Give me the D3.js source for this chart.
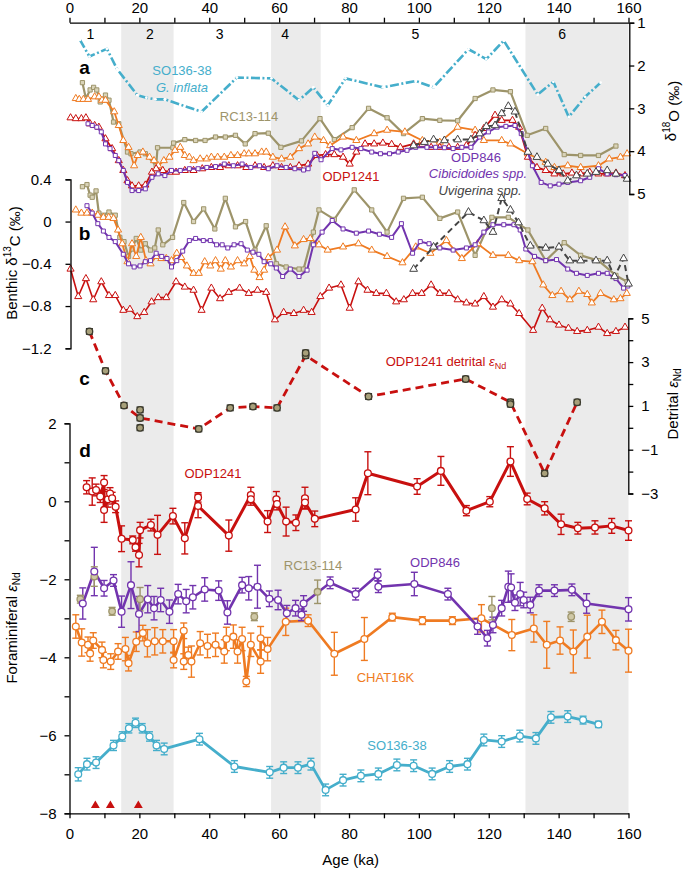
<!DOCTYPE html>
<html><head><meta charset="utf-8">
<script src="https://cdn.jsdelivr.net/npm/d3@7"></script>
<style>
body{margin:0;background:#fff;}
svg text{font-family:"Liberation Sans",Arial,sans-serif;}
</style></head>
<body><svg id="c" width="685" height="869"></svg>
<script>
// ---------------- DATA ----------------
const ageTicks = d3.range(0,161,10);
const misBands = [[14.8,29.8],[57.7,71.9],[130.5,160]];
const misLabels = ["1","2","3","4","5","6"];
const misPos = [6,23,43,61.7,99,141];

// panel a: d18O (per mil)
const so136_d18O = [[3.0,1.40],[5.7,1.79],[10.7,1.61],[13.6,2.08],[19.4,2.69],[22.0,2.75],[24.6,2.79],[27.3,2.79],[37.8,3.08],[47.9,2.28],[57.8,2.30],[65.7,2.81],[69.8,2.51],[73.9,2.93],[79.0,2.30],[89.7,2.51],[99.1,2.36],[104.2,2.51],[114.2,1.62],[119.3,1.85],[124.3,1.42],[134.0,2.68],[138.5,2.38],[142.9,3.20],[147.6,2.73],[152.0,2.40]];
const rc13_d18O = [[3.7,2.40],[4.7,2.77],[5.9,2.57],[6.9,2.51],[7.8,2.57],[8.8,2.85],[10.3,2.69],[11.3,2.81],[12.6,3.32],[14.1,3.36],[16.6,4.02],[17.6,4.06],[20.2,4.02],[21.7,4.06],[24.8,4.34],[25.2,3.92],[29.6,3.92],[29.8,3.81],[33.0,3.73],[36.1,3.75],[38.8,3.75],[41.8,3.67],[44.6,3.67],[47.5,3.63],[50.3,3.83],[53.1,3.59],[56.9,3.58],[60.5,3.91],[66.4,3.76],[71.7,3.24],[75.8,3.73],[80.9,3.45],[85.6,3.00],[90.9,3.22],[95.6,3.59],[101.0,3.24],[106.0,3.28],[111.1,3.29],[116.1,2.77],[121.2,2.57],[126.2,2.61],[131.0,3.63],[136.3,3.47],[141.6,4.08],[146.3,4.10],[151.4,4.10],[156.4,3.88]];
const chat_d18O = [[1.8,2.77],[2.8,2.79],[4.0,2.79],[5.3,2.79],[7.2,2.73],[8.4,2.73],[9.3,2.81],[10.3,2.81],[12.8,3.08],[14.1,3.40],[15.4,3.75],[16.9,3.91],[18.5,4.34],[19.5,4.10],[21.0,4.02],[22.9,4.14],[24.2,4.22],[25.4,4.34],[27.0,4.22],[28.6,4.14],[30.2,3.98],[31.7,3.91],[33.0,4.10],[34.3,4.14],[35.5,4.22],[37.4,4.18],[39.3,4.18],[40.6,4.14],[42.4,4.14],[44.3,4.14],[46.2,4.10],[48.1,4.10],[50.0,4.06],[51.3,4.06],[53.1,4.06],[55.0,4.02],[56.3,4.02],[58.2,4.14],[60.7,4.18],[63.2,4.14],[65.7,3.94],[68.3,3.83],[70.2,3.67],[72.7,3.75],[74.6,3.87],[78.3,3.67],[82.1,3.75],[87.2,3.59],[90.9,3.51],[96.0,3.55],[101.0,3.75],[106.0,3.79],[111.1,3.44],[116.1,3.51],[118.6,3.75],[123.7,3.75],[126.2,3.83],[131.2,4.06],[136.3,4.26],[138.8,4.38],[142.6,4.34],[146.3,4.38],[151.4,4.34],[154.5,4.18],[157.7,4.14],[159.6,4.06]];
const odp1241_d18O = [[0.3,3.22],[1.8,3.24],[3.4,3.24],[4.7,3.22],[5.9,3.36],[7.2,3.40],[8.4,3.44],[10.3,3.71],[12.2,3.94],[14.1,4.22],[15.4,4.45],[16.6,4.69],[17.9,4.81],[19.8,4.81],[21.7,4.79],[23.6,4.49],[24.8,4.41],[26.7,4.45],[28.6,4.49],[30.5,4.49],[33.0,4.45],[35.5,4.45],[38.0,4.41],[40.6,4.38],[43.1,4.38],[45.6,4.34],[48.1,4.34],[50.6,4.38],[53.1,4.34],[55.7,4.38],[58.2,4.34],[60.7,4.38],[63.2,4.38],[65.7,4.34],[68.3,4.30],[70.8,4.10],[73.3,4.08],[75.8,4.08],[78.3,4.14],[80.2,4.30],[82.1,4.02],[84.6,3.83],[87.2,3.83],[89.7,3.81],[92.2,3.84],[94.7,3.91],[98.5,3.83],[101.0,3.84],[103.5,3.91],[106.0,3.91],[108.6,3.91],[111.1,3.91],[113.6,3.87],[116.1,3.63],[118.6,3.47],[121.8,3.16],[123.7,3.28],[126.8,3.28],[128.7,3.44],[131.2,4.14],[133.8,4.38],[136.3,4.45],[138.8,4.53],[141.3,4.53],[143.8,4.51],[146.3,4.53],[148.9,4.49],[151.4,4.53],[153.9,4.53],[156.4,4.51],[159.0,4.57]];
const odp846_d18O = [[5.3,3.36],[6.5,3.40],[7.8,3.44],[9.1,3.55],[10.3,3.83],[11.6,3.94],[13.1,4.10],[14.1,4.22],[15.4,4.45],[16.6,4.73],[17.9,4.92],[19.8,4.92],[21.7,4.88],[23.6,4.61],[25.4,4.53],[27.3,4.57],[29.2,4.45],[31.7,4.45],[34.3,4.41],[36.8,4.41],[39.3,4.38],[41.8,4.36],[44.3,4.30],[46.9,4.34],[49.4,4.30],[51.9,4.38],[54.4,4.34],[56.9,4.41],[59.4,4.34],[62.0,4.38],[64.5,4.41],[67.0,4.44],[68.3,4.41],[70.2,4.05],[72.0,4.20],[75.2,3.94],[77.7,3.97],[80.9,3.91],[83.4,3.94],[86.5,4.02],[89.0,4.06],[91.6,4.06],[94.1,4.02],[96.6,3.98],[99.1,3.91],[102.3,3.91],[104.8,3.91],[107.3,3.92],[109.8,3.94],[112.3,3.91],[114.9,3.91],[117.4,3.67],[119.9,3.55],[122.4,3.44],[124.9,3.42],[127.5,3.40],[129.3,3.59],[132.5,4.34],[135.0,4.73],[137.6,4.81],[140.1,4.77],[142.6,4.73],[146.3,4.69],[148.9,4.61],[151.4,4.41],[153.9,4.53],[156.4,4.55],[159.0,4.57]];
const uvi_d18O = [[98.5,3.87],[101.6,3.79],[104.2,3.73],[107.3,3.75],[111.1,3.73],[114.9,3.73],[117.4,3.59],[119.3,3.42],[121.8,3.40],[123.7,3.12],[125.6,2.95],[127.5,3.08],[131.2,4.02],[133.8,4.14],[136.9,4.30],[140.1,4.45],[142.6,4.69],[145.1,4.57],[148.2,4.53],[150.7,4.49],[153.9,4.45],[156.4,4.53],[159.6,4.65]];

// panel b: benthic d13C (per mil)
const rc13_d13C = [[3.7,0.33],[5.0,0.35],[5.9,0.25],[6.5,0.23],[7.6,0.29],[8.4,0.08],[9.7,0.06],[11.3,0.09],[13.1,0.06],[14.4,-0.15],[15.6,-0.19],[16.9,-0.33],[17.9,-0.26],[19.1,-0.16],[20.4,-0.27],[21.7,-0.21],[23.2,-0.27],[24.4,-0.25],[25.4,-0.08],[26.7,-0.22],[29.5,-0.15],[32.7,0.18],[35.5,0.00],[38.4,0.12],[41.6,-0.07],[44.6,0.22],[47.5,-0.05],[50.4,0.00],[53.1,-0.27],[56.3,-0.04],[59.2,-0.40],[62.0,-0.43],[65.7,-0.45],[67.0,-0.45],[69.8,-0.10],[71.4,0.11],[75.8,0.02],[81.5,0.30],[86.5,0.11],[90.9,-0.10],[95.6,0.22],[101.0,0.23],[106.0,0.03],[111.1,0.09],[116.1,-0.32],[120.9,0.04],[125.6,0.04],[131.2,-0.08],[136.3,-0.37],[141.6,-0.20],[146.3,-0.32],[151.4,-0.37],[156.4,-0.51],[159.6,-0.57]];
const chat_d13C = [[1.8,0.11],[3.4,0.08],[5.0,0.08],[6.5,0.08],[8.1,0.06],[9.7,0.04],[11.2,0.04],[12.6,0.03],[13.9,-0.08],[15.1,-0.21],[16.6,-0.38],[17.9,-0.21],[19.1,-0.33],[20.4,-0.15],[21.9,-0.37],[23.2,-0.40],[24.8,-0.33],[26.3,-0.35],[27.7,-0.35],[29.2,-0.37],[30.7,-0.30],[32.0,-0.34],[33.6,-0.42],[35.5,-0.49],[37.0,-0.49],[38.7,-0.38],[40.3,-0.42],[41.8,-0.37],[43.3,-0.45],[44.6,-0.37],[46.2,-0.43],[48.1,-0.37],[50.0,-0.40],[51.6,-0.33],[52.9,-0.46],[54.4,-0.53],[55.7,-0.46],[56.9,-0.34],[59.4,-0.27],[61.7,-0.05],[64.5,-0.23],[67.0,-0.17],[68.9,-0.16],[71.4,-0.22],[73.9,-0.27],[78.3,-0.24],[82.7,-0.21],[86.5,-0.27],[90.9,-0.33],[95.3,-0.39],[99.1,-0.24],[103.3,-0.30],[107.9,-0.18],[112.3,-0.35],[116.8,-0.21],[121.2,-0.32],[125.6,-0.32],[128.7,-0.37],[132.5,-0.38],[135.6,-0.60],[138.2,-0.70],[140.7,-0.66],[143.2,-0.74],[145.8,-0.66],[148.2,-0.69],[149.5,-0.77],[152.0,-0.68],[155.8,-0.74],[157.7,-0.73],[159.5,-0.68]];
const odp846_d13C = [[5.0,0.15],[6.5,0.08],[8.1,-0.02],[9.7,-0.09],[11.3,-0.15],[13.1,-0.19],[15.4,-0.31],[16.9,-0.40],[18.5,-0.43],[20.2,-0.42],[21.7,-0.38],[23.2,-0.37],[24.8,-0.30],[26.4,-0.33],[27.9,-0.35],[29.2,-0.43],[30.7,-0.37],[32.4,-0.28],[34.3,-0.18],[36.1,-0.16],[38.3,-0.18],[40.3,-0.18],[42.1,-0.22],[43.7,-0.22],[45.3,-0.25],[47.1,-0.22],[49.1,-0.21],[50.9,-0.27],[52.5,-0.29],[54.2,-0.31],[55.7,-0.38],[57.6,-0.40],[59.2,-0.44],[61.0,-0.52],[63.2,-0.45],[65.7,-0.52],[68.0,-0.46],[69.8,-0.22],[72.3,-0.10],[75.2,0.01],[78.3,-0.07],[82.1,-0.11],[85.6,-0.09],[88.7,-0.12],[92.2,-0.15],[95.0,-0.02],[98.2,-0.30],[100.4,-0.19],[102.9,-0.21],[106.0,-0.25],[109.8,-0.27],[113.6,-0.25],[116.1,-0.22],[118.6,-0.10],[121.2,-0.03],[124.3,-0.03],[127.2,-0.03],[129.0,-0.08],[130.6,-0.26],[133.1,-0.33],[136.3,-0.37],[139.4,-0.36],[142.6,-0.45],[145.1,-0.49],[148.2,-0.51],[151.4,-0.49],[153.9,-0.49],[156.4,-0.54],[158.6,-0.63],[159.8,-0.61]];
const uvi_d13C = [[98.5,-0.45],[104.2,-0.24],[114.2,0.09],[118.6,0.01],[121.2,-0.10],[123.7,0.22],[126.2,0.11],[128.5,-0.01],[131.9,-0.23],[136.3,-0.25],[140.1,-0.24],[143.2,-0.37],[146.3,-0.37],[150.7,-0.37],[153.9,-0.37],[156.0,-0.52],[158.6,-0.35],[160.0,-0.59]];
const odp1241_d13C = [[0.3,-0.45],[2.5,-0.71],[4.7,-0.54],[6.8,-0.74],[9.1,-0.57],[11.3,-0.70],[13.1,-0.70],[15.4,-0.84],[17.3,-0.83],[19.4,-0.90],[21.4,-0.86],[23.5,-0.76],[25.4,-0.72],[27.7,-0.72],[30.5,-0.57],[33.0,-0.62],[35.5,-0.65],[37.8,-0.84],[40.6,-0.63],[43.1,-0.73],[45.6,-0.67],[48.7,-0.63],[51.3,-0.68],[53.8,-0.65],[56.3,-0.67],[58.8,-0.93],[61.3,-0.86],[64.2,-0.87],[67.0,-0.84],[69.3,-0.86],[71.8,-0.71],[74.3,-0.63],[77.7,-0.60],[80.2,-0.82],[82.7,-0.57],[85.3,-0.65],[87.8,-0.68],[90.7,-0.68],[93.5,-0.76],[95.7,-0.74],[98.2,-0.68],[100.8,-0.68],[103.5,-0.60],[106.0,-0.68],[108.6,-0.68],[111.1,-0.74],[113.6,-0.77],[116.1,-0.78],[118.6,-0.71],[121.2,-0.81],[123.7,-0.74],[126.2,-0.78],[128.7,-0.87],[132.7,-1.03],[135.3,-0.82],[137.5,-0.93],[140.1,-0.98],[142.8,-1.01],[145.3,-1.04],[148.2,-1.03],[151.4,-1.00],[153.9,-1.06],[156.4,-1.04],[159.0,-1.00]];

// panel c: ODP1241 detrital eNd
const detritalNd = [[5.7,4.40],[10.3,2.60],[15.6,1.02],[20.2,0.45],[37.0,-0.05],[46.0,0.91],[52.5,0.97],[59.4,0.91],[67.6,3.30],[85.6,1.43],[113.4,2.23],[126.2,1.17],[136.0,-2.08],[145.3,1.17]];
const detritalExtra = [[20.2,0.82],[20.2,0.00],[67.6,3.42],[126.2,1.08]];
const detritalErr = 0.12;

// panel d: foraminiferal eNd  [age, value, 2sd]
const odp1241_Nd = [[4.9,0.36,0.17],[6.5,0.25,0.35],[7.6,0.29,0.15],[8.8,0.12,0.15],[9.9,0.48,0.18],[9.9,-0.22,0.32],[11.0,0.05,0.2],[11.6,0.20,0.15],[12.2,0.08,0.15],[13.2,-0.14,0.15],[14.9,-0.96,0.33],[18.1,-0.99,0.1],[18.9,-1.18,0.1],[19.9,-1.38,0.3],[20.2,-0.74,0.2],[23.3,-0.61,0.15],[25.2,-0.86,0.5],[29.6,-0.38,0.2],[33.0,-0.95,0.4],[36.8,0.10,0.12],[36.8,-0.12,0.3],[45.6,-0.88,0.4],[51.9,0.16,0.2],[51.9,0.05,0.15],[56.7,-0.52,0.28],[59.2,0.05,0.2],[59.4,-0.07,0.15],[62.0,-0.52,0.37],[64.8,-0.55,0.2],[67.4,0.08,0.28],[67.4,-0.03,0.15],[70.2,-0.45,0.2],[81.9,-0.21,0.3],[85.4,0.72,0.55],[99.5,0.38,0.2],[106.3,0.78,0.37],[113.6,-0.24,0.13],[120.3,-0.01,0.13],[126.2,1.02,0.38],[131.0,0.06,0.15],[136.0,-0.18,0.17],[140.7,-0.59,0.26],[145.5,-0.69,0.15],[150.4,-0.67,0.17],[155.2,-0.63,0.19],[160.0,-0.75,0.25]];
const odp846_Nd = [[3.8,-2.62,0.4],[7.1,-1.80,0.62],[9.9,-2.23,0.2],[12.6,-2.03,0.15],[14.9,-2.83,0.4],[17.6,-2.15,0.6],[19.9,-2.89,0.45],[22.4,-2.51,0.35],[24.2,-2.74,0.3],[26.1,-2.53,0.3],[28.6,-2.83,0.3],[31.1,-2.38,0.25],[33.4,-2.56,0.3],[35.3,-2.46,0.3],[38.7,-2.26,0.3],[42.7,-2.29,0.25],[45.2,-2.85,0.3],[49.4,-2.15,0.2],[51.3,-2.23,0.3],[53.8,-2.19,0.55],[57.2,-2.50,0.2],[59.7,-2.53,0.25],[62.2,-2.87,0.2],[64.7,-2.74,0.2],[66.4,-2.91,0.15],[67.0,-2.62,0.2],[74.6,-2.09,0.15],[81.9,-2.38,0.15],[88.2,-1.89,0.15],[88.4,-2.19,0.15],[98.7,-2.12,0.3],[108.3,-2.38,0.15],[116.8,-3.21,0.2],[119.6,-3.51,0.2],[121.2,-3.17,0.2],[123.7,-2.74,0.2],[125.6,-2.19,0.4],[126.4,-2.21,0.35],[127.5,-2.60,0.2],[129.0,-2.38,0.3],[130.0,-2.53,0.2],[131.9,-2.66,0.2],[134.4,-2.29,0.15],[138.8,-2.29,0.15],[143.8,-2.27,0.15],[148.0,-2.62,0.25],[160.0,-2.77,0.3]];
const rc13_Nd = [[3.1,-2.51,0.1],[7.1,-1.93,0.25],[12.2,-2.82,0.1],[20.2,-2.51,0.3],[52.9,-2.96,0.1],[71.0,-2.32,0.3],[120.9,-2.74,0.3],[143.6,-2.96,0.12]];
const chat_Nd = [[1.8,-3.21,0.3],[3.5,-3.62,0.35],[5.3,-3.68,0.2],[5.9,-3.90,0.2],[6.8,-3.57,0.2],[9.3,-3.81,0.2],[9.7,-4.07,0.2],[11.8,-4.11,0.2],[13.9,-3.85,0.2],[16.0,-3.79,0.3],[16.9,-4.15,0.2],[19.1,-3.60,0.25],[21.0,-3.38,0.2],[22.3,-3.64,0.35],[24.4,-3.59,0.35],[26.7,-3.59,0.3],[29.8,-3.59,0.3],[29.8,-4.07,0.2],[32.7,-3.32,0.2],[32.7,-4.11,0.2],[34.0,-3.94,0.2],[34.9,-4.11,0.4],[37.4,-3.64,0.3],[39.5,-3.71,0.3],[41.8,-3.68,0.3],[44.3,-3.85,0.3],[44.9,-3.53,0.3],[46.9,-3.47,0.3],[48.1,-3.85,0.3],[49.4,-3.53,0.3],[50.6,-4.62,0.13],[51.9,-3.68,0.3],[54.7,-4.11,0.3],[54.7,-3.51,0.3],[56.7,-3.79,0.3],[61.9,-3.09,0.35],[68.3,-3.06,0.15],[75.8,-3.91,0.55],[84.4,-3.53,0.55],[92.4,-2.97,0.1],[101.0,-3.06,0.1],[109.6,-3.06,0.1],[117.9,-3.00,0.35],[126.6,-3.43,0.4],[132.9,-3.26,0.35],[136.6,-3.68,0.6],[140.4,-3.57,0.35],[144.2,-3.85,0.55],[148.2,-3.47,0.55],[152.4,-3.09,0.3],[156.4,-3.56,0.25],[160.0,-3.83,0.55]];
const so136_Nd = [[2.5,-7.00,0.17],[5.0,-6.74,0.15],[7.6,-6.70,0.15],[12.6,-6.26,0.13],[15.1,-6.03,0.12],[17.0,-5.82,0.12],[18.9,-5.68,0.12],[20.8,-5.82,0.12],[22.9,-6.03,0.12],[24.9,-6.26,0.13],[27.1,-6.35,0.15],[37.2,-6.10,0.15],[47.2,-6.80,0.15],[57.3,-6.95,0.15],[61.3,-6.83,0.15],[65.4,-6.83,0.15],[69.1,-6.74,0.15],[73.3,-7.40,0.15],[78.3,-7.15,0.15],[83.4,-7.04,0.15],[88.4,-6.99,0.15],[93.7,-6.76,0.15],[98.5,-6.78,0.15],[103.8,-6.99,0.15],[108.8,-6.80,0.15],[113.9,-6.74,0.15],[118.6,-6.12,0.15],[123.7,-6.16,0.15],[128.9,-6.02,0.15],[133.5,-6.08,0.15],[137.8,-5.54,0.15],[142.6,-5.52,0.15],[147.0,-5.61,0.1],[151.4,-5.72,0.08]];
const markerAges = [7.4,11.7,19.7];
const markerValue = -7.8;

// ---------------- DRAW ----------------
const C = {red:"#c8100f", orange:"#ef7b22", purple:"#7234ae", olive:"#9d946a", cyan:"#45aecb", gray:"#444444", band:"#ebebeb"};
const svg = d3.select("#c");
const x = d3.scaleLinear().domain([0,160]).range([69.5,628.5]);
const yO = d3.scaleLinear().domain([1,5]).range([22.7,194]);
const yC = d3.scaleLinear().domain([0.4,-1.2]).range([179.3,348.3]);
const yD = d3.scaleLinear().domain([5,-3]).range([318.3,493.5]);
const yN = d3.scaleLinear().domain([2,-8]).range([423.3,813.3]);

// MIS bands
svg.append("g").selectAll("rect").data(misBands).join("rect")
  .attr("x",d=>x(d[0])).attr("width",d=>x(d[1])-x(d[0]))
  .attr("y",22.7).attr("height",813.3-22.7).attr("fill",C.band);
svg.append("g").selectAll("text").data(misLabels).join("text")
  .attr("x",(d,i)=>x(misPos[i])).attr("y",39).attr("text-anchor","middle")
  .attr("font-size",14).text(d=>d);

function line(data, ys, color, w, dash){
  svg.append("path").datum(data)
    .attr("d", d3.line().x(d=>x(d[0])).y(d=>ys(d[1])))
    .attr("fill","none").attr("stroke",color).attr("stroke-width",w)
    .attr("stroke-linejoin","round").attr("stroke-dasharray",dash||null);
}
function syms(data, ys, type, size, stroke, fill){
  svg.append("g").selectAll("path").data(data).join("path")
    .attr("transform",d=>`translate(${x(d[0])},${ys(d[1])})`)
    .attr("d", d3.symbol().type(type).size(size))
    .attr("fill",fill).attr("stroke",stroke).attr("stroke-width",1);
}
function series(data, ys, color, type, opts={}){
  line(data, ys, color, opts.w||1.8, opts.dash);
  syms(data, ys, type, opts.size||20, opts.mstroke||color, opts.fill||"#fff");
}

// panel a
line(so136_d18O, yO, C.cyan, 2.6, "9,2.5,2,2.5");
svg.append("g").selectAll("circle").data(so136_d18O).join("circle")
  .attr("cx",d=>x(d[0])).attr("cy",d=>yO(d[1])).attr("r",1.4).attr("fill","#fff");
series(rc13_d18O, yO, C.olive, d3.symbolSquare, {size:18, fill:"#d9d3b8", w:2.2});
series(chat_d18O, yO, C.orange, d3.symbolTriangle, {size:22, w:1.8});
series(odp1241_d18O, yO, C.red, d3.symbolTriangle, {size:22, w:1.8});
series(odp846_d18O, yO, C.purple, d3.symbolSquare, {size:16, w:2});
series(uvi_d18O, yO, C.gray, d3.symbolTriangle, {size:26, w:2, dash:"6,4"});

// panel b
series(rc13_d13C, yC, C.olive, d3.symbolSquare, {size:18, fill:"#d9d3b8", w:2.2});
series(chat_d13C, yC, C.orange, d3.symbolTriangle, {size:22, w:1.8});
series(odp846_d13C, yC, C.purple, d3.symbolSquare, {size:16, w:2});
series(uvi_d13C, yC, C.gray, d3.symbolTriangle, {size:26, w:2, dash:"6,4"});
series(odp1241_d13C, yC, C.red, d3.symbolTriangle, {size:22, w:1.6});

// error bars helper
function errbars(data, ys, color, w){
  const g = svg.append("g").attr("stroke",color).attr("stroke-width",w||1.4).attr("fill","none");
  data.forEach(d=>{
    const cx=x(d[0]), y1=ys(d[1]+d[2]), y2=ys(d[1]-d[2]);
    g.append("line").attr("x1",cx).attr("x2",cx).attr("y1",y1).attr("y2",y2);
    g.append("line").attr("x1",cx-3.5).attr("x2",cx+3.5).attr("y1",y1).attr("y2",y1);
    g.append("line").attr("x1",cx-3.5).attr("x2",cx+3.5).attr("y1",y2).attr("y2",y2);
  });
}
function circles(data, ys, stroke, fill, r){
  svg.append("g").selectAll("circle").data(data).join("circle")
    .attr("cx",d=>x(d[0])).attr("cy",d=>ys(d[1])).attr("r",r||3.4)
    .attr("fill",fill).attr("stroke",stroke).attr("stroke-width",1.3);
}

// panel c
line(detritalNd, yD, C.red, 2.8, "8,5");
const detAll = detritalNd.concat(detritalExtra).map(d=>[d[0],d[1],detritalErr]);
errbars(detAll, yD, "#2b2b22", 1.6);
circles(detAll, yD, "#3b3a2c", "#a8a07a", 3.3);

// panel d
const ndSeries = [[chat_Nd, C.orange, 2.6],[odp846_Nd, C.purple, 2.6],[odp1241_Nd, C.red, 3],[so136_Nd, C.cyan, 2.8]];
ndSeries.forEach(([data,color,w])=>{ line(data, yN, color, w); errbars(data, yN, color, 1.4); });
errbars(rc13_Nd, yN, C.olive, 1.4);
circles(rc13_Nd, yN, C.olive, "#cfc8a6", 3.3);
ndSeries.forEach(([data,color])=>circles(data, yN, color, "#fff", 3.4));
svg.append("g").selectAll("path").data(markerAges).join("path")
  .attr("transform",d=>`translate(${x(d)},${yN(markerValue)})`)
  .attr("d", d3.symbol().type(d3.symbolTriangle).size(34)).attr("fill","#c8100f");

// ---------------- AXES ----------------
function styleAxis(g){
  g.selectAll("path,line").attr("stroke","#000").attr("stroke-width",1.3);
  g.selectAll("text").attr("font-size",15).attr("font-family","'Liberation Sans',Arial,sans-serif").attr("fill","#000");
}
const fmtNd = d => d3.format("d")(d);
svg.append("g").attr("transform","translate(0,22.7)")
  .call(d3.axisTop(x).tickValues(ageTicks).tickSize(5).tickSizeOuter(0).tickPadding(5).tickFormat(d=>d%20===0?d:""))
  .call(styleAxis);
svg.append("g").attr("transform","translate(0,813.3)")
  .call(d3.axisBottom(x).tickValues(ageTicks).tickSize(5).tickSizeOuter(0).tickPadding(10).tickFormat(d=>d%20===0?d:""))
  .call(styleAxis);
svg.append("g").attr("transform","translate(629.3,0)")
  .call(d3.axisRight(yO).tickValues([1,2,3,4,5]).tickSize(5).tickSizeOuter(5).tickPadding(3).tickFormat(d3.format("d")))
  .call(styleAxis);
svg.append("g").attr("transform","translate(70.5,0)")
  .call(d3.axisLeft(yC).tickValues([0.4,0,-0.4,-0.8,-1.2]).tickSize(5).tickSizeOuter(5).tickPadding(14).tickFormat(d=>d===0?"0":d3.format(".1f")(d)))
  .call(styleAxis);
svg.append("g").attr("transform","translate(628.3,0)")
  .call(d3.axisRight(yD).tickValues(d3.range(5,-3.5,-1)).tickSize(5).tickSizeOuter(5).tickPadding(8).tickFormat(d=>Math.abs(d%2)===1?fmtNd(d):""))
  .call(styleAxis);
svg.append("g").attr("transform","translate(69.5,0)")
  .call(d3.axisLeft(yN).tickValues(d3.range(2,-8.5,-1)).tickSize(5).tickSizeOuter(5).tickPadding(8).tickFormat(d=>d%2===0?fmtNd(d):""))
  .call(styleAxis);

// ---------------- TEXT ----------------
function label(txt, xx, yy, color, opts={}){
  const t = svg.append("text").attr("x",xx).attr("y",yy).attr("text-anchor",opts.anchor||"middle")
    .attr("font-size",opts.size||13).attr("fill",color);
  if(opts.italic) t.attr("font-style","italic");
  if(opts.bold) t.attr("font-weight","bold");
  t.text(txt); return t;
}
function epsNd(t, subSize){
  t.append("tspan").attr("font-style","italic").text("\u03b5");
  t.append("tspan").attr("font-size",subSize).attr("dy","0.3em").text("Nd");
}
label("a",84.5,74,"#000",{size:19,bold:true});
label("b",84.5,240,"#000",{size:19,bold:true});
label("c",84.5,385,"#000",{size:19,bold:true});
label("d",85,456.7,"#000",{size:19,bold:true});

label("SO136-38",182,75,C.cyan);
label("G. inflata",182,92,C.cyan,{italic:true});
label("RC13-114",249,121,C.olive);
label("ODP846",476,162,C.purple);
label("Cibicidoides spp.",478,178,C.purple,{italic:true});
label("Uvigerina spp.",480,195,C.gray,{italic:true});
label("ODP1241",351,180.7,C.red);
const dl = label("ODP1241 detrital ",446,366,C.red); epsNd(dl,9);
label("ODP1241",213,478,C.red);
label("RC13-114",313,570,C.olive);
label("ODP846",435,566.7,C.purple);
label("CHAT16K",385.5,681.7,C.orange);
label("SO136-38",397,750,C.cyan);

// axis titles
const t1 = svg.append("text").attr("transform","translate(17,263) rotate(-90)").attr("text-anchor","middle").attr("font-size",15);
t1.append("tspan").text("Benthic \u03b4");
t1.append("tspan").attr("font-size",10).attr("dy","-0.6em").text("13");
t1.append("tspan").attr("dy","0.6em").text("C (\u2030)");
const t2 = svg.append("text").attr("transform","translate(17,628) rotate(-90)").attr("text-anchor","middle").attr("font-size",15);
t2.append("tspan").text("Foraminiferal ");
epsNd(t2,10);
const t3 = svg.append("text").attr("transform","translate(676,111) rotate(-90)").attr("text-anchor","middle").attr("font-size",15);
t3.append("tspan").text("\u03b4");
t3.append("tspan").attr("font-size",10).attr("dy","-0.6em").text("18");
t3.append("tspan").attr("dy","0.6em").text("O (\u2030)");
const t4 = svg.append("text").attr("transform","translate(678,404) rotate(-90)").attr("text-anchor","middle").attr("font-size",15);
t4.append("tspan").text("Detrital ");
epsNd(t4,10);
label("Age (ka)",350.7,865,"#000",{size:15});
</script></body></html>
